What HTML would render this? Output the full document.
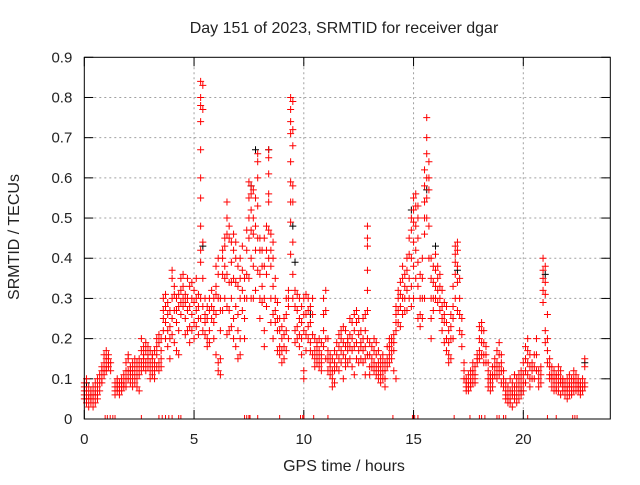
<!DOCTYPE html>
<html><head><meta charset="utf-8"><style>
body{margin:0;background:#fff;}
svg text{font-family:"Liberation Sans",sans-serif;fill:#222;}
</style></head><body>
<svg id="chart" width="640" height="480" xmlns="http://www.w3.org/2000/svg">
<rect width="640" height="480" fill="#fff"/>
<text x="344" y="33" font-size="16" text-anchor="middle">Day 151 of 2023, SRMTID for receiver dgar</text>
<text x="344" y="471" font-size="16" text-anchor="middle">GPS time / hours</text>
<text transform="translate(19,237) rotate(-90)" font-size="16" text-anchor="middle">SRMTID / TECUs</text>
<g id="grid"></g><g id="ticks"></g><g id="marks"></g>
<rect x="84.3" y="57.3" width="526" height="361.7" fill="none" stroke="#000" stroke-width="1"/>
</svg>
<script>
const xTicks=[0,5,10,15,20];
const yTicks=[0,0.1,0.2,0.3,0.4,0.5,0.6,0.7,0.8,0.9];
const times=[0,0.1,0.2,0.3,0.4,0.5,0.6,0.7,0.8,0.9,1.0,1.1,1.2,1.4,1.5,1.6,1.7,1.8,1.9,2.0,2.1,2.2,2.3,2.4,2.5,2.6,2.7,2.8,2.9,3.0,3.1,3.2,3.3,3.4,3.5,3.6,3.7,3.8,3.9,4.0,4.1,4.2,4.3,4.4,4.5,4.6,4.7,4.8,4.9,5.0,5.1,5.2,5.3,5.4,5.5,5.6,5.7,5.8,5.9,6.0,6.1,6.2,6.3,6.4,6.5,6.6,6.7,6.8,6.9,7.0,7.1,7.2,7.3,7.4,7.5,7.6,7.7,7.8,7.9,8.0,8.1,8.2,8.3,8.4,8.5,8.6,8.7,8.8,8.9,9.0,9.1,9.2,9.3,9.4,9.5,9.6,9.7,9.8,9.9,10.0,10.1,10.2,10.3,10.4,10.5,10.6,10.7,10.8,10.9,11.0,11.1,11.2,11.3,11.4,11.5,11.6,11.7,11.8,11.9,12.0,12.1,12.2,12.3,12.4,12.5,12.6,12.7,12.8,12.9,13.0,13.1,13.2,13.3,13.4,13.5,13.6,13.7,13.8,13.9,14.0,14.1,14.2,14.3,14.4,14.5,14.6,14.7,14.8,14.9,15.0,15.1,15.2,15.3,15.4,15.5,15.6,15.7,15.8,15.9,16.0,16.1,16.2,16.3,16.4,16.5,16.6,16.7,16.8,16.9,17.0,17.1,17.2,17.3,17.4,17.5,17.6,17.7,17.8,17.9,18.0,18.1,18.2,18.3,18.4,18.5,18.6,18.7,18.8,18.9,19.0,19.1,19.2,19.3,19.4,19.5,19.6,19.7,19.8,19.9,20.0,20.1,20.2,20.3,20.4,20.5,20.6,20.7,20.8,20.9,21.0,21.1,21.2,21.3,21.4,21.5,21.6,21.7,21.8,21.9,22.0,22.1,22.2,22.3,22.4,22.5,22.6,22.7,22.8];
const values=[
[.08,.06,.05,.09,.07],[.05,.04,.07,.1],[.06,.03,.05,.08],[.04,.06,.05,.07],[.05,.03,.08,.06],[.07,.04,.09,.06],[.08,.05,.06,.1],[.09,.11,.07],[.12,.1,.13,.09],[.14,.12,.16,.11],[.15,.13,.12,.17],[.14,.16,.13,.15],[.12,.14],
[.08,.07,.09,.06],[.09,.07,.08,.1],[.07,.08,.06,.09],[.08,.1,.07,.09],[.09,.08,.11],[.1,.12,.08,.14],[.12,.15,.1,.16],[.11,.13,.09,.12],[.1,.14,.12,.08],[.13,.11,.15,.09],[.12,.1,.14,.08],[.13,.15,.11,.07],[.17,.2,.14,.12],[.15,.18,.13,.16],[.14,.17,.12,.19],[.16,.13,.15,.18],[.12,.14,.1,.17],[.15,.13,.16,.11],[.14,.12,.17,.1],[.18,.16,.13,.2],[.19,.14,.21,.12],[.2,.15,.17,.13],[.25,.27,.22,.3],[.28,.31,.24,.2],[.22,.26,.18,.29],[.23,.2,.27,.15],[.25,.35,.3,.37,.21],[.33,.31,.27,.19],[.3,.27,.17,.24],[.28,.31,.16,.22],[.35,.32,.29,.26],[.33,.3,.28,.36],[.31,.25,.21,.29],[.35,.3,.22,.27],[.33,.28,.23,.19],[.3,.26,.22,.34],[.32,.29,.24,.2],[.3,.27,.23,.35],[.28,.25,.31,.21],
[.84,.8,.78,.74,.67,.6,.55,.48,.42,.39,.3,.25],[.83,.77,.44,.35,.28,.22],[.3,.26,.21,.24],[.28,.25,.2,.18],[.27,.3,.22,.19],[.25,.32,.28],[.3,.27,.24,.2],[.33,.38,.31,.26,.16],[.36,.4,.3,.14,.12],[.3,.27,.22,.11,.15],[.42,.4,.36,.27],[.45,.43,.38,.35,.3],[.54,.5,.46,.36,.28,.21],[.48,.45,.34,.27,.22],[.44,.39,.34,.3,.23],[.42,.46,.35,.25,.2],[.44,.4,.34,.28,.18],
[.38,.33,.26,.15,.22],[.4,.35,.3,.2,.16],[.43,.37,.32,.27],[.35,.3,.25,.2],[.47,.42,.36,.3],[.59,.55,.5,.45,.35],[.58,.56,.52,.47,.4,.3],[.57,.5,.46,.38,.3],[.55,.48,.42,.32],[.66,.64,.6,.53,.45,.37],[.45,.42,.36,.3,.25],[.42,.38,.33,.29],[.45,.38,.3,.22,.18],[.48,.42,.36,.28],[.67,.65,.61,.56,.54,.47,.4],[.46,.42,.38,.3,.24],[.44,.4,.33,.26,.2],[.35,.3,.27,.24],[.29,.25,.22,.17],[.25,.22,.18,.16],[.23,.2,.17,.14],[.25,.21,.18,.15],[.3,.26,.22,.17],[.32,.3,.28,.2],[.8,.77,.74,.71,.64,.59,.54,.49,.41],[.79,.72,.68,.58,.54,.44,.36,.3],[.32,.28,.22,.19],[.31,.27,.23,.2],[.3,.25,.21,.18],[.28,.24,.2,.16],[.3,.26,.22,.1,.12],
[.31,.26,.21,.17],[.3,.27,.23,.2],[.28,.24,.19,.17],[.3,.26,.21,.16],[.2,.17,.15,.13],[.18,.16,.14,.19],[.17,.15,.13,.2],[.16,.19,.14,.12],[.3,.26,.22,.18],[.32,.27,.2,.15],[.2,.17,.15,.12],[.16,.14,.11,.13],[.15,.12,.1,.08],[.17,.14,.12,.09],[.19,.16,.13],[.21,.18,.15,.12],[.2,.17,.14,.22],[.23,.19,.16,.1],[.22,.18,.15,.13],[.2,.17,.14,.19],[.25,.21,.18,.15],[.24,.2,.17,.13],[.26,.22,.18,.11],[.27,.24,.19,.15],[.25,.21,.17,.14],[.22,.18,.15,.19],[.25,.2,.17,.14],[.26,.22,.18,.15,.11],[.48,.45,.43,.37,.32,.27,.2,.16],[.19,.16,.13,.11],[.18,.15,.13],[.2,.17,.14,.12],[.19,.16,.13,.11],[.17,.14,.12,.1],[.15,.13,.11,.09],[.16,.14,.12,.1],[.14,.12,.1,.08],[.18,.15,.13],[.2,.18,.16,.14],[.2,.17,.15,.19],[.21,.19,.17,.12],[.28,.26,.24,.22,.1],[.32,.3,.27,.24],[.34,.31,.28,.23],[.38,.35,.3,.26],[.36,.33,.3,.27],
[.4,.37,.32,.27],[.45,.41,.35,.3],[.5,.47,.4,.33,.28],[.55,.52,.49,.44,.38,.3],[.56,.53,.48,.42,.35],[.53,.5,.45,.39,.33,.25],[.36,.3,.26,.23],[.4,.35,.3,.25],[.62,.58,.54,.5,.46,.3],[.75,.7,.66,.6,.55,.5],[.64,.6,.57,.48,.4],[.4,.35,.3,.25,.2],[.38,.34,.3,.27],[.41,.37,.33,.3],[.38,.35,.32,.29],[.36,.33,.3,.27],[.32,.28,.25,.22],[.29,.26,.24,.19],[.28,.24,.2,.17],[.22,.19,.16,.14],[.26,.23,.2,.15],[.33,.28,.25,.2],[.43,.41,.39,.36,.3],[.44,.42,.38,.34,.27],[.35,.3,.26,.22],[.25,.21,.18],[.14,.12,.1],
[.1,.08,.07,.09],[.09,.08,.07,.11],[.1,.09,.08,.12],[.12,.11,.09,.14],[.13,.11,.1,.09],[.16,.15,.14],[.23,.2,.17,.15],[.24,.22,.19,.16],[.22,.19,.16,.14],[.18,.16,.14],[.14,.12,.1,.08],[.11,.1,.09,.07],[.13,.11,.1,.08],[.15,.13,.11],[.17,.14,.12,.1],[.19,.16,.13,.11],[.16,.14,.12,.09],[.12,.1,.08],[.09,.07,.06,.05],[.08,.06,.05,.04],[.1,.07,.05,.04],[.09,.07,.06,.03],[.11,.08,.06,.05],[.1,.08,.06,.04],[.11,.09,.07,.05],[.12,.1,.08,.06],[.14,.11,.09,.07],[.18,.15,.12,.09],[.2,.17,.14,.11],[.16,.13,.1,.08],[.14,.12,.1],[.16,.13,.1],[.2,.16,.12],[.12,.1,.08],[.13,.11,.09],
[.4,.37,.35,.32,.29],[.38,.34,.31,.22,.19],[.26,.2,.17,.14],[.15,.13,.11,.1],[.13,.11,.1,.08],[.12,.1,.09,.07],[.11,.1,.08,.07],[.13,.11,.09,.07],[.12,.1,.09,.06],[.1,.09,.08,.07],[.09,.08,.07,.06],[.1,.08,.07,.05],[.11,.09,.08,.06],[.1,.08,.07,.06],[.12,.1,.09,.07],[.11,.09,.08,.07],[.1,.09,.08,.07],[.09,.08,.07,.06],[.1,.08,.07],[.15,.13,.09,.08]];
const zeroTimes=[0.95,1.05,1.18,1.3,1.4,2.6,3.4,3.55,3.7,3.85,4.0,4.3,4.4,7.3,7.4,7.5,7.55,7.9,8.9,9.85,9.95,10.0,10.45,11.1,14.06,14.95,15.05,15.2,16.85,17.57,18.0,18.1,18.25,18.8,18.9,19.1,19.2,20.2,21.1,21.5,22.25,22.35,22.45];
const blackTimes=[0.1,5.4,7.6,7.8,8.4,9.5,9.6,10.3,14.9,15.6,16.0,17.0,19.9,21.0,22.8];
const blackValues=[.09,.43,.58,.67,.67,.48,.39,.26,.52,.57,.43,.37,.07,.36,.14];

const X0=84.3,XS=21.95,Y0=419,YS=401.9;
const xs=t=>X0+t*XS, ys=v=>Y0-v*YS;
const NS='http://www.w3.org/2000/svg';
const grid=document.getElementById('grid'),ticks=document.getElementById('ticks'),marks=document.getElementById('marks');
function el(tag,attrs,parent){const e=document.createElementNS(NS,tag);for(const k in attrs)e.setAttribute(k,attrs[k]);parent.appendChild(e);return e;}
yTicks.forEach(v=>{
  const y=ys(v);
  if(v>0&&v<0.9){const g=el('line',{x1:X0,x2:610.3,y1:y,y2:y,stroke:'#a0a0a0','stroke-dasharray':'2,3'},grid);
  
  }
  el('line',{x1:X0,x2:X0+9,y1:y,y2:y,stroke:'#000'},ticks);
  el('line',{x1:610.3-9,x2:610.3,y1:y,y2:y,stroke:'#000'},ticks);
  const t=el('text',{x:X0-12,y:y+5,'font-size':'15','text-anchor':'end'},ticks);
  t.textContent=v===0?'0':v.toFixed(1);
  
  
});
xTicks.forEach(h=>{
  const x=xs(h);
  if(h>0){const g=el('line',{x1:x,x2:x,y1:57.3,y2:Y0,stroke:'#a0a0a0','stroke-dasharray':'2,3'},grid);
  
  }
  el('line',{x1:x,x2:x,y1:Y0,y2:Y0-9,stroke:'#000'},ticks);
  el('line',{x1:x,x2:x,y1:57.3,y2:66.3,stroke:'#000'},ticks);
  const t=el('text',{x:x,y:444,'font-size':'15','text-anchor':'middle'},ticks);
  t.textContent=String(h);
  
  
});
function plus(t,v,color,name){
  const x=xs(t),y=ys(v);
  const p=el('path',{d:`M${x-3.5},${y}H${x+3.5}M${x},${y-3.5}V${y+3.5}`,stroke:color,'stroke-width':1,fill:'none'},marks);
  
  
}
blackTimes.forEach((t,i)=>plus(t,blackValues[i],'#000','point-black'));
times.forEach((t,i)=>(values[i]||[]).forEach(v=>plus(t,v,'#ff0000','point')));
zeroTimes.forEach(t=>{
  const x=xs(t);
  const p=el('line',{x1:x,x2:x,y1:Y0-4,y2:Y0,stroke:'#ff0000'},marks);
  
  
});
</script>
</body></html>
